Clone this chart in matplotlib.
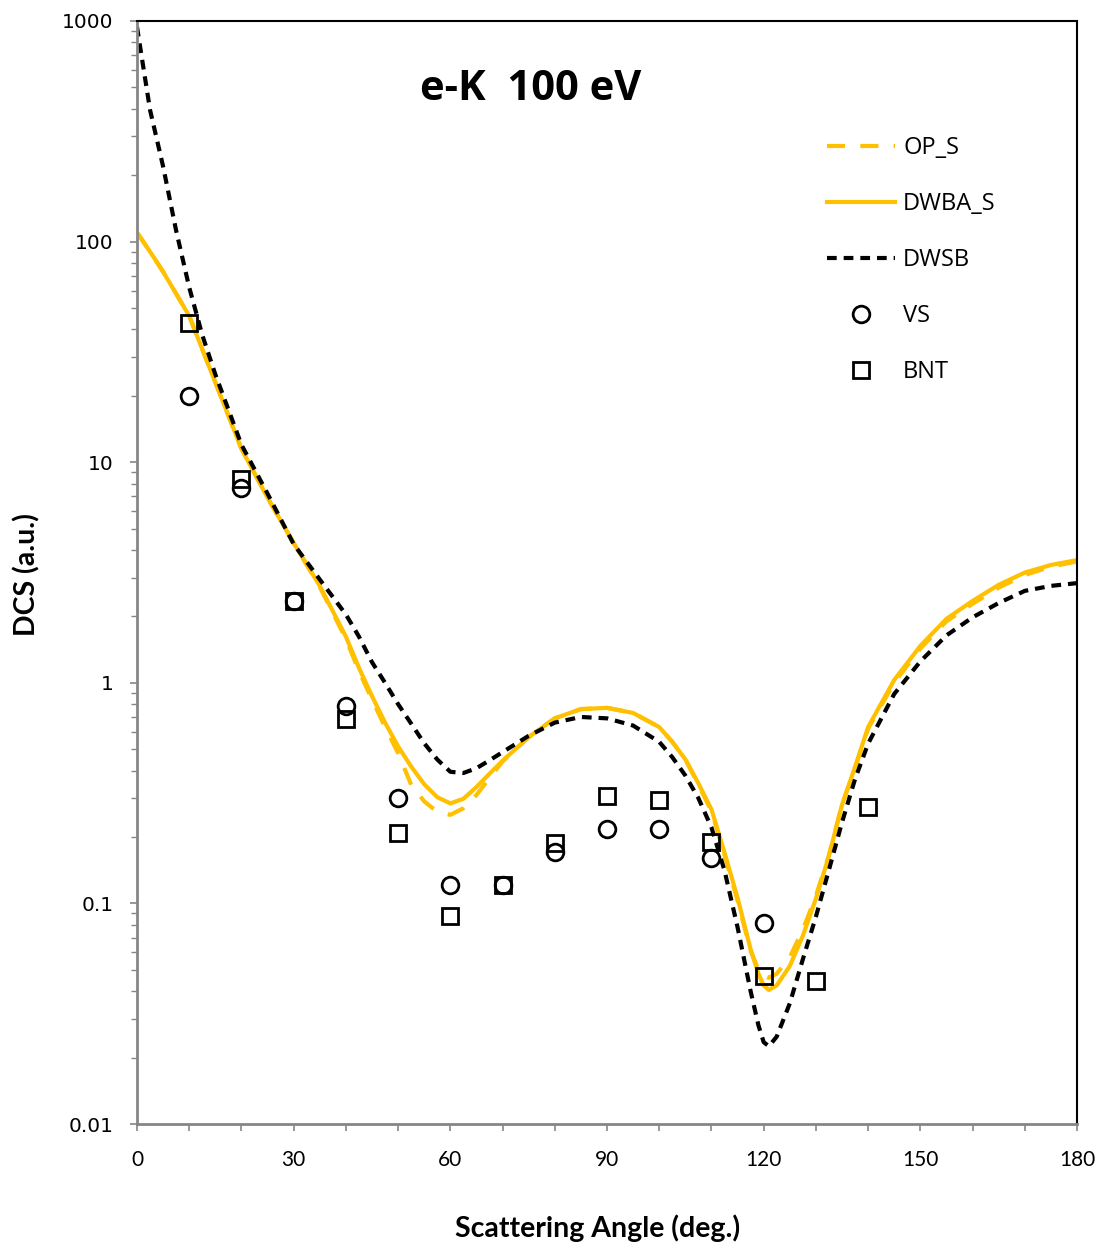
import matplotlib
matplotlib.use("Agg")
import matplotlib.pyplot as plt
from matplotlib.ticker import FixedLocator, LogLocator, NullFormatter, FixedFormatter

# ---------------- data ----------------
angle = [0, 2.5, 5, 7.5, 10, 12.5, 15, 20, 25, 30, 35, 40, 42.5, 45, 47.5, 50, 52.5, 55, 57.5,
         60, 62.5, 65, 67.5, 70, 75, 80, 85, 90, 95, 100, 102.5, 105, 107.5, 110, 112.5, 115,
         117.5, 119, 120, 121, 122.5, 125, 127.5, 130, 132.5, 135, 137.5, 140, 145, 150, 155,
         160, 165, 170, 175, 180]

dwba_s = [110, 90, 73, 58, 46, 32.5, 23, 11.5, 6.9, 4.3, 2.75, 1.62, 1.17, 0.87, 0.66, 0.515,
          0.417, 0.347, 0.303, 0.284, 0.298, 0.337, 0.387, 0.443, 0.567, 0.69, 0.76, 0.77, 0.73,
          0.63, 0.54, 0.45, 0.35, 0.267, 0.170, 0.106, 0.062, 0.048, 0.0425, 0.0405, 0.0425,
          0.052, 0.0713, 0.105, 0.164, 0.28, 0.416, 0.63, 1.03, 1.47, 1.95, 2.35, 2.78, 3.16,
          3.42, 3.6]

op_s = [110, 90, 73, 58, 46, 32.5, 23, 11.5, 6.9, 4.3, 2.72, 1.58, 1.13, 0.84, 0.63, 0.48,
        0.345, 0.29, 0.26, 0.252, 0.27, 0.31, 0.37, 0.44, 0.567, 0.69, 0.76, 0.77, 0.73,
        0.63, 0.54, 0.45, 0.345, 0.262, 0.166, 0.103, 0.061, 0.05, 0.047, 0.046, 0.048,
        0.057, 0.076, 0.108, 0.166, 0.28, 0.41, 0.62, 1.0, 1.43, 1.9, 2.28, 2.7, 3.08,
        3.36, 3.55]

dwsb = [940, 395, 219, 112, 62, 37.7, 25, 12, 7.2, 4.25, 2.94, 2.04, 1.62, 1.24, 1.0, 0.80,
        0.653, 0.532, 0.449, 0.395, 0.39, 0.41, 0.445, 0.485, 0.575, 0.66, 0.70, 0.69, 0.64,
        0.54, 0.46, 0.38, 0.30, 0.221, 0.141, 0.078, 0.040, 0.028, 0.0235, 0.0225, 0.0249,
        0.0352, 0.0558, 0.087, 0.142, 0.233, 0.366, 0.53, 0.89, 1.25, 1.64, 1.98, 2.30, 2.61,
        2.75, 2.83]

vs_angle = [10, 20, 30, 40, 50, 60, 70, 80, 90, 100, 110, 120]
vs_dcs = [20, 7.6, 2.35, 0.785, 0.30, 0.121, 0.121, 0.171, 0.217, 0.217, 0.161, 0.0815]

bnt_angle = [10, 20, 30, 40, 50, 60, 70, 80, 90, 100, 110, 120, 130, 140]
bnt_dcs = [42.8, 8.4, 2.35, 0.685, 0.209, 0.0877, 0.121, 0.188, 0.307, 0.294, 0.19, 0.0469,
           0.0445, 0.273]

x_ticks = list(range(0, 181, 10))
x_labels = [str(t) if t % 30 == 0 else "" for t in x_ticks]
y_ticks = [0.01, 0.1, 1, 10, 100, 1000]
y_labels = ["0.01", "0.1", "1", "10", "100", "1000"]

# ---------------- plot ----------------
plt.rcParams['lines.scale_dashes'] = False
YEL = "#FFC000"
GRAY = "#868686"

fig = plt.figure(figsize=(11.02, 12.48), dpi=100)
ax = fig.add_axes([137/1102, 1 - 1124/1248, 940/1102, 1103/1248])

ax.plot(angle, op_s, color=YEL, lw=3.0, dashes=(13, 11), solid_joinstyle="round",
        dash_joinstyle="round", label="OP_S")
ax.plot(angle, dwba_s, color=YEL, lw=3.0, solid_joinstyle="round", label="DWBA_S")
ax.plot(angle, dwsb, color="black", lw=3.0, dashes=(7, 5), dash_joinstyle="round",
        label="DWSB")
ax.plot(vs_angle, vs_dcs, ls="none", marker="o", ms=12, mfc="none", mec="black", mew=2,
        label="VS")
ax.plot(bnt_angle, bnt_dcs, ls="none", marker="s", ms=12, mfc="none", mec="black", mew=2,
        label="BNT")

ax.set_yscale("log")
ax.set_xlim(0, 180)
ax.set_ylim(0.01, 1000)

ax.xaxis.set_major_locator(FixedLocator(x_ticks))
ax.xaxis.set_major_formatter(FixedFormatter(x_labels))
ax.yaxis.set_major_locator(FixedLocator(y_ticks))
ax.yaxis.set_major_formatter(FixedFormatter(y_labels))
ax.yaxis.set_minor_locator(LogLocator(base=10, subs=range(2, 10)))
ax.yaxis.set_minor_formatter(NullFormatter())

ax.tick_params(axis="x", which="major", direction="out", length=5, width=1.2, color=GRAY,
               pad=14, labelsize=15)
ax.tick_params(axis="y", which="major", direction="out", length=5, width=1.2, color=GRAY,
               pad=12, labelsize=14.5)
ax.tick_params(axis="y", which="minor", direction="out", length=4, width=1.0, color=GRAY)
for lab in ax.get_xticklabels():
    lab.set_fontfamily(["Lato", "DejaVu Sans"])
for lab in ax.get_yticklabels():
    lab.set_fontfamily(["DejaVu Sans"])

for s in ["left", "bottom"]:
    ax.spines[s].set_color(GRAY)
    ax.spines[s].set_linewidth(2.0)
for s in ["top", "right"]:
    ax.spines[s].set_color("black")
    ax.spines[s].set_linewidth(1.5)

ax.set_xlabel("Scattering Angle (deg.)", fontsize=20.5, fontweight="bold",
              family=["Lato", "DejaVu Sans"], va="center")
ax.xaxis.set_label_coords((598 - 137) / 940, -(1228 - 1124) / 1103)
ax.set_ylabel("DCS (a.u.)", fontsize=20.5, fontweight="bold",
              family=["Lato", "DejaVu Sans"], va="center", ha="center")
ax.yaxis.set_label_coords(-(137 - 27) / 940, 1 - (575 - 21) / 1103)

ax.text((531 - 137) / 940, 1 - (89 - 21) / 1103, "e-K  100 eV", transform=ax.transAxes,
        fontsize=30, fontweight="bold", family=["Open Sans", "DejaVu Sans"],
        ha="center", va="center")

leg = ax.legend(loc="upper left", bbox_to_anchor=((827 - 137) / 940, 1 - (136 - 21) / 1103),
                frameon=False, handlelength=2.88, handletextpad=0.34,
                labelspacing=1.36, borderpad=0, borderaxespad=0,
                prop={"family": ["Open Sans", "DejaVu Sans"], "size": 17})

fig.savefig("out.png", dpi=100)
